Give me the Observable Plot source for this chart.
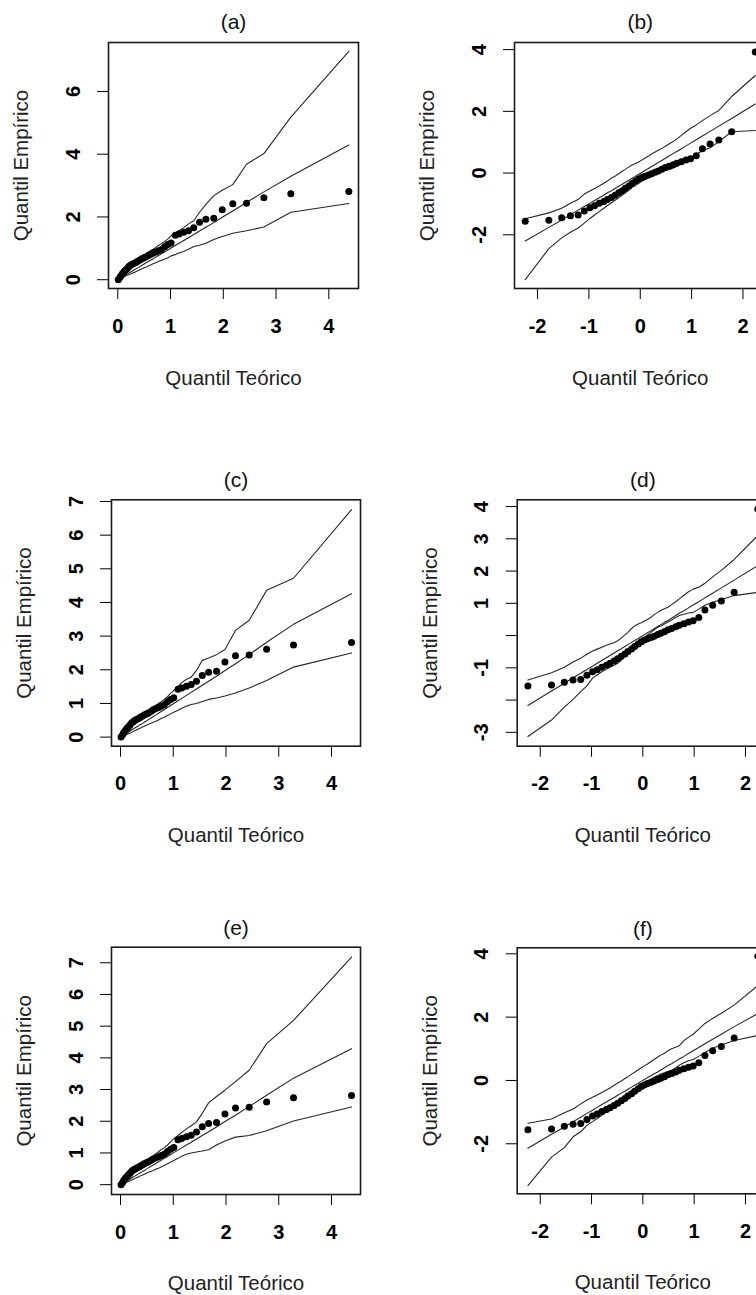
<!DOCTYPE html>
<html><head><meta charset="utf-8">
<script src="https://cdn.jsdelivr.net/npm/d3@7"></script>
<script src="https://cdn.jsdelivr.net/npm/@observablehq/plot@0.6"></script>
<style>
html,body{margin:0;padding:0;background:#fff;}
body{width:756px;height:1295px;overflow:hidden;position:relative;}
.panel{position:absolute;}
</style></head><body>
<div id="chart"></div>
<script>
// Theoretical quantiles (x positions of the 40 points)
const expQuantiles = [0.01,0.04,0.06,0.09,0.12,0.15,0.18,0.21,0.24,0.27,0.30,0.34,0.37,0.41,0.45,0.49,0.53,0.58,0.62,0.67,0.72,0.77,0.83,0.89,0.95,1.01,1.09,1.16,1.25,1.34,1.44,1.55,1.67,1.82,1.98,2.18,2.44,2.77,3.28,4.38];
const normQuantiles = [-2.24,-1.78,-1.53,-1.36,-1.21,-1.09,-0.98,-0.89,-0.80,-0.71,-0.64,-0.56,-0.49,-0.42,-0.35,-0.29,-0.22,-0.16,-0.09,-0.03,0.03,0.09,0.16,0.22,0.29,0.35,0.42,0.49,0.56,0.64,0.71,0.80,0.89,0.98,1.09,1.21,1.36,1.53,1.78,2.24];

// Empirical quantiles (points)
const empLeft = [0.00,0.07,0.13,0.20,0.26,0.31,0.36,0.42,0.46,0.49,0.52,0.55,0.58,0.62,0.66,0.69,0.72,0.77,0.81,0.85,0.88,0.92,0.96,1.05,1.12,1.17,1.42,1.46,1.51,1.56,1.66,1.83,1.93,1.96,2.23,2.42,2.44,2.61,2.74,2.81];
const empRight = [-1.56,-1.53,-1.45,-1.38,-1.36,-1.23,-1.12,-1.06,-0.98,-0.92,-0.86,-0.79,-0.72,-0.64,-0.57,-0.49,-0.42,-0.34,-0.26,-0.19,-0.14,-0.10,-0.06,-0.02,0.03,0.07,0.12,0.18,0.22,0.27,0.32,0.37,0.42,0.46,0.56,0.79,0.94,1.07,1.34,3.92];

// Envelopes
const aLower = [0.00,0.03,0.05,0.07,0.09,0.12,0.14,0.16,0.18,0.20,0.23,0.25,0.28,0.31,0.34,0.37,0.40,0.44,0.47,0.51,0.54,0.58,0.62,0.66,0.70,0.76,0.80,0.85,0.90,0.97,1.06,1.10,1.16,1.28,1.38,1.48,1.56,1.68,2.15,2.43];
const aMid = [0.01,0.04,0.06,0.09,0.12,0.15,0.18,0.21,0.24,0.27,0.30,0.34,0.37,0.41,0.45,0.49,0.53,0.58,0.62,0.67,0.72,0.77,0.83,0.89,0.95,1.01,1.09,1.16,1.25,1.34,1.44,1.55,1.67,1.82,1.99,2.19,2.46,2.80,3.30,4.29];
const aUpper = [0.10,0.15,0.20,0.25,0.30,0.35,0.39,0.43,0.47,0.51,0.55,0.59,0.63,0.67,0.72,0.77,0.82,0.87,0.92,0.97,1.03,1.09,1.15,1.22,1.30,1.40,1.48,1.56,1.66,1.78,1.88,2.15,2.40,2.68,2.85,3.03,3.68,4.02,5.18,7.28];

const bLower = [-3.45,-2.45,-2.10,-1.92,-1.78,-1.62,-1.47,-1.36,-1.25,-1.14,-1.05,-0.96,-0.88,-0.80,-0.71,-0.64,-0.55,-0.46,-0.40,-0.33,-0.27,-0.21,-0.15,-0.09,-0.03,0.02,0.05,0.09,0.12,0.16,0.22,0.32,0.42,0.50,0.60,0.72,0.82,1.02,1.34,1.38];
const bMid = [-2.20,-1.76,-1.52,-1.35,-1.20,-1.08,-0.98,-0.89,-0.80,-0.72,-0.64,-0.57,-0.50,-0.43,-0.36,-0.30,-0.23,-0.17,-0.10,-0.04,0.02,0.08,0.15,0.21,0.28,0.34,0.41,0.48,0.55,0.63,0.70,0.79,0.88,0.97,1.08,1.20,1.35,1.52,1.77,2.24];
const bUpper = [-1.48,-1.29,-1.14,-0.98,-0.86,-0.68,-0.58,-0.50,-0.42,-0.33,-0.26,-0.16,-0.10,-0.02,0.06,0.12,0.20,0.26,0.31,0.36,0.42,0.48,0.55,0.62,0.68,0.74,0.80,0.87,0.94,1.02,1.10,1.22,1.34,1.45,1.56,1.70,1.86,2.03,2.48,3.16];

const cLower = [0.00,0.02,0.04,0.06,0.08,0.10,0.12,0.14,0.17,0.19,0.21,0.24,0.26,0.29,0.32,0.35,0.38,0.41,0.44,0.47,0.51,0.55,0.59,0.64,0.69,0.74,0.80,0.86,0.92,0.97,1.00,1.06,1.12,1.16,1.22,1.31,1.46,1.68,2.08,2.50];
const cMid = [0.01,0.04,0.06,0.09,0.12,0.15,0.18,0.21,0.24,0.27,0.30,0.33,0.37,0.40,0.44,0.48,0.52,0.57,0.61,0.66,0.71,0.76,0.82,0.88,0.94,1.00,1.08,1.15,1.24,1.33,1.43,1.54,1.66,1.81,1.98,2.18,2.45,2.82,3.35,4.26];
const cUpper = [0.10,0.15,0.19,0.24,0.28,0.32,0.36,0.40,0.44,0.48,0.52,0.56,0.60,0.64,0.68,0.72,0.77,0.82,0.88,0.95,1.00,1.05,1.12,1.20,1.30,1.39,1.50,1.62,1.72,1.78,1.98,2.28,2.35,2.45,2.60,3.17,3.47,4.36,4.72,6.76];

const dLower = [-3.13,-2.62,-2.22,-1.98,-1.74,-1.56,-1.32,-1.22,-1.12,-1.04,-0.98,-0.92,-0.86,-0.76,-0.62,-0.52,-0.42,-0.30,-0.22,-0.14,-0.08,0.02,0.10,0.18,0.26,0.30,0.36,0.42,0.48,0.56,0.62,0.66,0.70,0.72,0.82,0.94,1.03,1.12,1.24,1.34];
const dMid = [-2.17,-1.72,-1.48,-1.31,-1.17,-1.05,-0.95,-0.86,-0.77,-0.69,-0.62,-0.54,-0.47,-0.41,-0.34,-0.28,-0.21,-0.15,-0.09,-0.03,0.03,0.09,0.15,0.21,0.28,0.34,0.41,0.47,0.54,0.62,0.69,0.77,0.86,0.95,1.05,1.17,1.31,1.48,1.72,2.17];
const dUpper = [-1.38,-1.15,-0.98,-0.82,-0.70,-0.58,-0.48,-0.42,-0.36,-0.30,-0.26,-0.22,-0.16,-0.08,0.02,0.10,0.22,0.30,0.36,0.40,0.45,0.50,0.57,0.65,0.72,0.78,0.83,0.88,0.96,1.05,1.14,1.25,1.36,1.44,1.50,1.62,1.82,2.02,2.36,3.10];

const eLower = [0.00,0.02,0.04,0.06,0.08,0.10,0.12,0.15,0.17,0.19,0.22,0.24,0.27,0.30,0.33,0.36,0.39,0.42,0.45,0.49,0.52,0.56,0.61,0.66,0.71,0.76,0.83,0.90,0.96,1.00,1.03,1.06,1.10,1.25,1.38,1.50,1.55,1.70,2.01,2.45];
const eMid = [0.01,0.04,0.06,0.09,0.12,0.15,0.18,0.21,0.24,0.27,0.30,0.34,0.37,0.41,0.45,0.49,0.53,0.58,0.62,0.67,0.72,0.77,0.83,0.89,0.95,1.01,1.09,1.16,1.25,1.34,1.44,1.55,1.67,1.82,1.99,2.19,2.47,2.82,3.36,4.29];
const eUpper = [0.10,0.15,0.20,0.25,0.29,0.33,0.37,0.41,0.45,0.49,0.53,0.57,0.61,0.65,0.69,0.74,0.79,0.85,0.91,0.98,1.04,1.10,1.17,1.25,1.35,1.45,1.55,1.65,1.76,1.86,1.98,2.25,2.58,2.78,2.98,3.25,3.61,4.45,5.18,7.18];

const fLower = [-3.32,-2.42,-2.12,-1.78,-1.62,-1.42,-1.30,-1.20,-1.10,-1.00,-0.92,-0.84,-0.76,-0.68,-0.58,-0.50,-0.40,-0.32,-0.24,-0.16,-0.10,-0.04,0.04,0.10,0.16,0.20,0.24,0.28,0.32,0.40,0.48,0.56,0.62,0.66,0.76,0.88,1.02,1.12,1.26,1.42];
const fMid = [-2.14,-1.70,-1.47,-1.30,-1.16,-1.04,-0.94,-0.85,-0.76,-0.68,-0.61,-0.54,-0.47,-0.40,-0.34,-0.28,-0.21,-0.15,-0.09,-0.03,0.03,0.09,0.15,0.21,0.27,0.33,0.40,0.47,0.53,0.61,0.68,0.76,0.85,0.94,1.04,1.16,1.30,1.46,1.70,2.11];
const fUpper = [-1.35,-1.22,-1.02,-0.90,-0.74,-0.62,-0.53,-0.46,-0.38,-0.30,-0.24,-0.15,-0.08,-0.02,0.06,0.12,0.20,0.26,0.34,0.40,0.46,0.52,0.60,0.66,0.74,0.80,0.86,0.94,1.00,1.05,1.10,1.26,1.36,1.46,1.62,1.80,1.96,2.12,2.38,3.00];

// Text and ticks
const panelTitles = ["(a)","(b)","(c)","(d)","(e)","(f)"];
const xTitle = "Quantil Teórico";
const yTitle = "Quantil Empírico";
const leftXTicks = [0,1,2,3,4];
const rightXTicks = [-2,-1,0,1,2];
const aYTicks = [0,2,4,6];
const bYTicks = [-2,0,2,4];
const cYTicks = [0,1,2,3,4,5,6,7];
const dYTicks = [-3,-2,-1,0,1,2,3,4];
const dYLabels = [-3,-1,1,2,3,4];
const eYTicks = [0,1,2,3,4,5,6,7];
const fYTicks = [-2,0,2,4];

const FONT = "'Liberation Sans', Arial, Helvetica, sans-serif";
const root = document.getElementById("chart");

function panel(o) {
  const pts = o.xq.map((x, i) => ({x, y: o.emp[i]}));
  const env = arr => o.xq.map((x, i) => ({x, y: arr[i]}));
  const labels = o.yLabels || o.yTicks;
  const fmt = d => (labels.includes(d) ? String(d) : "");
  const lineStyle = {x: "x", y: "y", stroke: "#262626", strokeWidth: 1.1};
  const svg = Plot.plot({
    width: o.width,
    height: o.height,
    marginLeft: o.frame.l,
    marginRight: o.width - o.frame.r,
    marginTop: o.frame.t,
    marginBottom: o.height - o.frame.b,
    x: {domain: o.xDomain},
    y: {domain: o.yDomain},
    style: {fontFamily: FONT, background: "transparent", color: "#000", overflow: "visible"},
    marks: [
      Plot.line(env(o.lower), lineStyle),
      Plot.line(env(o.mid), lineStyle),
      Plot.line(env(o.upper), lineStyle),
      Plot.dot(pts, {x: "x", y: "y", r: 3.5, fill: "#000", stroke: "none"}),
      Plot.frame({stroke: "#1a1a1a", strokeWidth: 1.6}),
      Plot.axisX({ticks: o.xTicks, tickFormat: d => String(d), tickSize: 11, tickPadding: 19,
        fontSize: 20, fontWeight: "bold", label: null, fill: "#000"}),
      Plot.axisY({ticks: o.yTicks, tickFormat: fmt, tickSize: 11, tickPadding: 18, tickRotate: -90,
        fontSize: 20, fontWeight: "bold", label: null, fill: "#000"}),
      Plot.text([o.title], {text: d => d, frameAnchor: "top", dy: o.titleDy, textAnchor: "middle",
        lineAnchor: "middle", fontSize: 21, fill: "#111"}),
      Plot.text([xTitle], {text: d => d, frameAnchor: "bottom", dy: o.xTitleDy, textAnchor: "middle",
        lineAnchor: "middle", fontSize: 20.5, fill: "#222"}),
      Plot.text([yTitle], {text: d => d, frameAnchor: "left", dx: -87, rotate: -90, textAnchor: "middle",
        lineAnchor: "middle", fontSize: 20.5, fill: "#222"})
    ]
  });
  svg.classList.add("panel");
  svg.style.left = o.left + "px";
  svg.style.top = o.top + "px";
  root.appendChild(svg);
}

const rows = [
  {top: 0, height: 400},
  {top: 440, height: 410},
  {top: 890, height: 405}
];

panel({title: panelTitles[0], xq: expQuantiles, emp: empLeft, lower: aLower, mid: aMid, upper: aUpper,
  xTicks: leftXTicks, yTicks: aYTicks, xDomain: [-0.176, 4.563], yDomain: [-0.28, 7.56],
  left: 0, top: rows[0].top, width: 378, height: rows[0].height,
  frame: {l: 108, r: 358, t: 42, b: 288}, titleDy: -20, xTitleDy: 90});

panel({title: panelTitles[1], xq: normQuantiles, emp: empRight, lower: bLower, mid: bMid, upper: bUpper,
  xTicks: rightXTicks, yTicks: bYTicks, xDomain: [-2.449, 2.449], yDomain: [-3.74, 4.23],
  left: 378, top: rows[0].top, width: 400, height: rows[0].height,
  frame: {l: 136, r: 387.5, t: 42, b: 288}, titleDy: -20, xTitleDy: 90});

panel({title: panelTitles[2], xq: expQuantiles, emp: empLeft, lower: cLower, mid: cMid, upper: cUpper,
  xTicks: leftXTicks, yTicks: cYTicks, xDomain: [-0.171, 4.55], yDomain: [-0.27, 7.05],
  left: 0, top: rows[1].top, width: 378, height: rows[1].height,
  frame: {l: 111, r: 360, t: 59.3, b: 305.7}, titleDy: -20, xTitleDy: 89});

panel({title: panelTitles[3], xq: normQuantiles, emp: empRight, lower: dLower, mid: dMid, upper: dUpper,
  xTicks: rightXTicks, yTicks: dYTicks, yLabels: dYLabels, xDomain: [-2.449, 2.449], yDomain: [-3.43, 4.21],
  left: 378, top: rows[1].top, width: 400, height: rows[1].height,
  frame: {l: 138.7, r: 390, t: 59.3, b: 305.7}, titleDy: -20, xTitleDy: 89});

panel({title: panelTitles[4], xq: expQuantiles, emp: empLeft, lower: eLower, mid: eMid, upper: eUpper,
  xTicks: leftXTicks, yTicks: eYTicks, xDomain: [-0.171, 4.55], yDomain: [-0.31, 7.49],
  left: 0, top: rows[2].top, width: 378, height: rows[2].height,
  frame: {l: 111, r: 360, t: 56.7, b: 304}, titleDy: -19, xTitleDy: 89});

panel({title: panelTitles[5], xq: normQuantiles, emp: empRight, lower: fLower, mid: fMid, upper: fUpper,
  xTicks: rightXTicks, yTicks: fYTicks, xDomain: [-2.449, 2.449], yDomain: [-3.58, 4.19],
  left: 378, top: rows[2].top, width: 400, height: rows[2].height,
  frame: {l: 138.7, r: 390, t: 57.3, b: 303.3}, titleDy: -19, xTitleDy: 89});
</script>
</body></html>
